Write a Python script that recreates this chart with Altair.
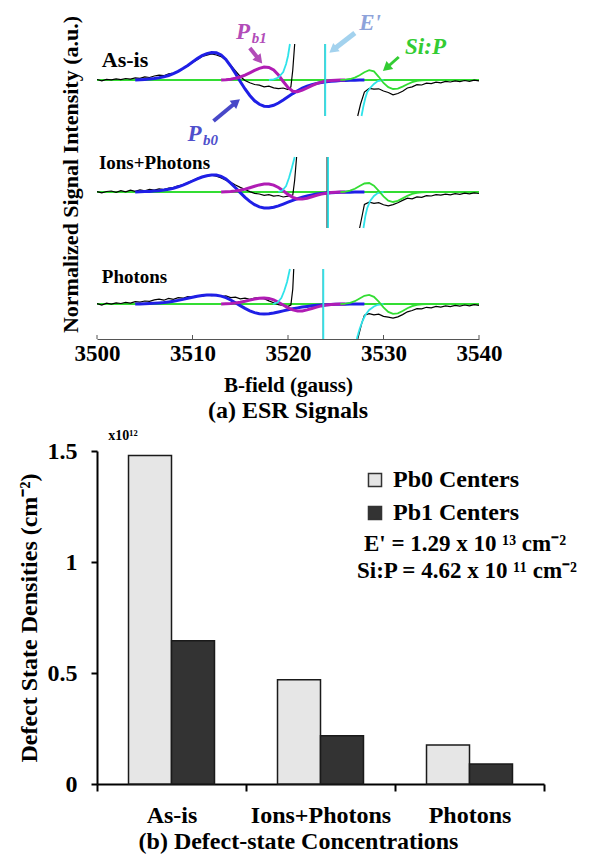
import altair as alt
import pandas as pd

FONT = "Liberation Serif"


def grid(a, b, step=0.5):
    n = int(round((b - a) / step)) + 1
    return [round(a + i * step, 2) for i in range(n)]


# ---------------- (a) ESR spectra ----------------
TRACES = ["As-is", "Ions+Photons", "Photons"]
OFFSETS = [259, 147, 35]          # vertical offset of each stacked spectrum (a.u.)
X_TICKS = [3500, 3510, 3520, 3530, 3540]

# Pb0 fit component (blue), sampled 3504..3528 G
PB0_X = grid(3504, 3528)
PB0_ASIS = [0, 0.3, 0.6, 1, 1.5, 2.2, 3.2, 4.5, 6.3, 8.6, 11.4, 14.6, 18, 21.4, 24.3, 26.4,
            27.5, 27.2, 25, 20.5, 14, 6.5, -1.5, -9, -15.5, -20.8, -24.3, -26.2, -26.5, -25.3,
            -23, -20, -16.8, -13.6, -10.7, -8.2, -6.2, -4.6, -3.4, -2.5, -1.8, -1.3, -0.9,
            -0.6, -0.4, -0.25, -0.15, -0.05, 0]
PB0_IONS = [0, 0.2, 0.4, 0.6, 0.9, 1.3, 1.9, 2.7, 3.8, 5.2, 6.9, 8.9, 11, 13.1, 15, 16.3,
            17, 17, 15.7, 12.9, 8.9, 4.3, -0.6, -5.3, -9.4, -12.7, -14.9, -16, -16.1, -15.3,
            -13.9, -12.1, -10.2, -8.3, -6.6, -5.1, -3.9, -2.9, -2.1, -1.5, -1.1, -0.8, -0.55,
            -0.35, -0.22, -0.13, -0.07, -0.03, 0]
PB0_PHOT = [0, 0.1, 0.3, 0.5, 0.7, 1, 1.4, 2, 2.7, 3.6, 4.6, 5.7, 6.8, 7.8, 8.6, 9, 9.1,
            8.8, 7.9, 6.3, 4, 1.3, -1.6, -4.4, -6.8, -8.6, -9.7, -10, -9.7, -9, -8, -6.9,
            -5.8, -4.8, -3.9, -3.1, -2.4, -1.8, -1.3, -0.95, -0.7, -0.5, -0.35, -0.23, -0.14,
            -0.08, -0.04, -0.02, 0]

# Pb1 fit component (magenta), sampled 3513..3526 G
PB1_X = grid(3513, 3526)
PB1_ASIS = [0, 0.3, 0.8, 1.7, 3, 4.9, 7.2, 9.6, 11.7, 12.9, 12.6, 10, 5, -1.5, -7.5, -11.2,
            -11.8, -10.2, -8, -5.6, -3.6, -2.1, -1.1, -0.5, -0.2, -0.05, 0]
PB1_IONS = [0, 0.2, 0.5, 1, 1.8, 2.9, 4.3, 5.8, 7.1, 7.9, 8, 6.9, 4.5, 1.2, -2.4, -5.3,
            -6.9, -7.1, -6.2, -4.8, -3.3, -2.1, -1.2, -0.6, -0.25, -0.08, 0]
PB1_PHOT = [0, 0.2, 0.5, 1, 1.7, 2.7, 3.9, 5, 5.8, 6.1, 5.6, 4.1, 1.8, -1, -3.8, -5.9,
            -7, -6.9, -5.9, -4.5, -3.1, -1.9, -1.1, -0.5, -0.2, -0.06, 0]

# Si:P fit component (green), sampled 3525.5..3534.5 G
SIP_X = grid(3525.5, 3534.5)
SIP_ASIS = [0, 0.3, 1, 2.4, 4.8, 7.8, 9.8, 8.6, 3.2, -3, -7.2, -9, -8.6, -6.6, -4.2, -2.2,
            -0.9, -0.3, 0]
SIP_IONS = [0, 0.4, 1.3, 3.2, 6, 8.5, 9, 6.4, 1.2, -4.4, -8.6, -10, -8.9, -6.4, -3.8, -1.9,
            -0.8, -0.25, 0]
SIP_PHOT = [0, 0.3, 1.1, 2.8, 5.5, 8.2, 9.1, 7.2, 2.4, -3.4, -7.9, -9.9, -9.3, -7, -4.3,
            -2.2, -0.9, -0.3, 0]

# E' fit component (cyan): left branch, off-scale jump, right branch
CYAN_ASIS_L_X = [3518.0, 3518.5, 3519.0, 3519.5, 3519.8, 3520.0, 3520.2]
CYAN_ASIS_L_Y = [0, 0.6, 2.5, 8, 16, 24, 36]
CYAN_ASIS_V_X = [3523.9, 3523.9]
CYAN_ASIS_V_Y = [36, -36]
CYAN_ASIS_R_X = [3527.7, 3527.9, 3528.1, 3528.3, 3528.6, 3529.0, 3529.4, 3530.0]
CYAN_ASIS_R_Y = [-36, -26, -18, -12, -8, -4, -1, 0]

CYAN_IONS_L_X = [3519.0, 3519.4, 3519.8, 3520.1, 3520.4, 3520.7]
CYAN_IONS_L_Y = [0, 1.5, 6, 14, 24, 35]
CYAN_IONS_V_X = [3524.2, 3524.2]
CYAN_IONS_V_Y = [35, -36]
CYAN_IONS_R_X = [3527.9, 3528.1, 3528.3, 3528.6, 3529.0, 3529.4, 3530.0]
CYAN_IONS_R_Y = [-36, -24, -16, -9, -4, -1, 0]

CYAN_PHOT_L_X = [3518.4, 3518.9, 3519.3, 3519.6, 3519.9, 3520.2]
CYAN_PHOT_L_Y = [0, 1.5, 6, 13, 22, 35]
CYAN_PHOT_V_X = [3523.7, 3523.7]
CYAN_PHOT_V_Y = [35, -35]
CYAN_PHOT_R_X = [3527.2, 3527.5, 3527.8, 3528.1, 3528.5, 3529.0, 3529.4, 3530.0]
CYAN_PHOT_R_Y = [-35, -25, -17, -11, -6, -2.5, -0.8, 0]

# Measured spectra (black)
BLACK_ASIS_L_X = grid(3500, 3520) + [3520.3, 3520.5, 3520.7]
BLACK_ASIS_L_Y = [0.5, -0.8, 0.6, 0.2, 1.2, 0.4, 1.5, 0.9, 2.2, 1.6,
                  3.1, 2.5, 4.0, 4.8, 4.3, 6.2, 7.0, 8.9, 11.5, 14.0,
                  17.6, 20.2, 23.5, 24.8, 26.1, 25.0, 23.4, 19.8, 14.9, 9.0,
                  3.5, -0.5, -2.8, -4.5, -5.2, -6.8, -6.1, -7.9, -8.6, -8.0,
                  -9.5, -7, 10, 36]
BLACK_ASIS_V_X = [3523.9, 3523.9]
BLACK_ASIS_V_Y = [36, -36]
BLACK_ASIS_R_X = [3527.3, 3527.6] + grid(3528, 3540)
BLACK_ASIS_R_Y = [-36, -24,
                  -12, -8.5, -9.2, -8.8, -11, -12.5, -14.8, -13.5, -11.2, -8.0,
                  -6.9, -4.6, -5.0, -3.1, -3.6, -2.2, -2.9, -1.4, -2.0, -0.8,
                  -1.6, -0.5, -1.3, -0.2, -0.9]

BLACK_IONS_L_X = grid(3500, 3520) + [3520.5, 3520.7, 3520.9]
BLACK_IONS_L_Y = [0.3, -0.9, 0.5, 1.0, -0.4, 1.3, 0.2, 1.8, 0.7, 2.1,
                  1.2, 2.6, 1.9, 3.2, 2.4, 3.9, 4.4, 6.1, 7.2, 9.4,
                  11.5, 13.6, 15.2, 16.4, 16.8, 15.9, 14.1, 11.8, 9.6, 7.0,
                  4.6, 2.5, 0.4, -1.3, -2.0, -3.4, -2.6, -4.1, -3.5, -5.0,
                  -4.2, -3, 12, 35]
BLACK_IONS_V_X = [3524.1, 3524.1]
BLACK_IONS_V_Y = [35, -36]
BLACK_IONS_R_X = [3527.5, 3527.8] + grid(3528, 3540)
BLACK_IONS_R_Y = [-36, -22,
                  -12.5, -10.2, -11.4, -10.6, -12.8, -13.9, -12.6, -10.8, -8.4, -6.2,
                  -6.8, -4.9, -5.3, -3.6, -4.0, -2.7, -3.2, -2.1, -2.8, -1.6,
                  -2.3, -1.2, -1.9, -0.9, -1.5]

BLACK_PHOT_L_X = grid(3500, 3520) + [3520.3, 3520.5, 3520.6]
BLACK_PHOT_L_Y = [0.4, -1.0, 0.8, -0.2, 1.1, 0.5, 1.6, 0.9, 2.4, 1.8,
                  3.0, 2.6, 4.1, 4.9, 3.8, 5.6, 4.7, 6.3, 5.8, 7.4,
                  6.9, 8.3, 7.6, 9.2, 8.4, 8.9, 7.5, 8.1, 6.4, 6.9,
                  5.2, 5.9, 4.6, 5.8, 6.3, 5.4, 3.1, 1.2, -0.6, -1.5,
                  -2.4, -1, 15, 35]
BLACK_PHOT_V_X = [3523.7, 3523.7]
BLACK_PHOT_V_Y = [35, -35]
BLACK_PHOT_R_X = [3527.3, 3527.7] + grid(3528, 3540)
BLACK_PHOT_R_Y = [-35, -20,
                  -11.2, -9.6, -10.8, -10.1, -12.4, -13.2, -14.1, -12.9, -10.6, -7.8,
                  -6.5, -4.6, -4.9, -3.3, -3.8, -2.4, -3.1, -1.9, -2.6, -1.4,
                  -2.2, -1.0, -1.8, -0.7, -1.4]

# annotations of panel (a)
LABEL_TEXT = ["As-is", "Ions+Photons", "Photons"]
LABEL_X = [3500.5, 3500.2, 3500.5]
LABEL_Y = [279, 176, 62]
LABEL_SIZE = [22, 19, 19]

ANN_MAIN = ["P", "P", "E'", "Si:P"]
ANN_MAIN_X = [3515.3, 3510.2, 3528.6, 3534.4]
ANN_MAIN_Y = [307, 205, 316, 292]
ANN_COLOR = ["#b24cb8", "#4f4fcc", "#8ea3da", "#33cc33"]
ANN_SUB = ["b1", "b0"]
ANN_SUB_X = [3516.2, 3511.1]
ANN_SUB_Y = [301, 199]

ARROW_X = [3516.0, 3512.2, 3527.0, 3531.6]
ARROW_Y = [291, 218, 306, 282]
ARROW_X2 = [3517.0, 3514.6, 3524.7, 3530.3]
ARROW_Y2 = [279, 237, 289, 271]
ARROW_COLOR = ["#b24cb8", "#4848c8", "#a3d2ee", "#33cc33"]
ARROW_W = [4, 4, 5, 3]
ARROW_ANGLE = [141, 51, 232, 230]

# ---------------- (b) densities ----------------
CATS = ["As-is", "Ions+Photons", "Photons"]
SERIES = ["Pb0 Centers", "Pb1 Centers"]
PB0_DENS = [1.48, 0.47, 0.176]
PB1_DENS = [0.645, 0.217, 0.09]
Y_TICKS_B = [0, 0.5, 1, 1.5]
E_TEXT = "E' = 1.29 x 10 \u00b9\u00b3 cm\u207b\u00b2"
S_TEXT = "Si:P = 4.62 x 10 \u00b9\u00b9 cm\u207b\u00b2"

# ---------------- build long tables ----------------
rows = {"black": [], "blue": [], "mag": [], "cyan": [], "green": []}


def add(comp, key, xs, ys, off):
    for i, (x, y) in enumerate(zip(xs, ys)):
        rows[comp].append({"x": x, "y": y + off, "key": key, "i": i})


spec = {
    "As-is": dict(pb0=PB0_ASIS, pb1=PB1_ASIS, sip=SIP_ASIS,
                  cyan=[(CYAN_ASIS_L_X, CYAN_ASIS_L_Y), (CYAN_ASIS_V_X, CYAN_ASIS_V_Y), (CYAN_ASIS_R_X, CYAN_ASIS_R_Y)],
                  black=[(BLACK_ASIS_L_X, BLACK_ASIS_L_Y), (BLACK_ASIS_V_X, BLACK_ASIS_V_Y), (BLACK_ASIS_R_X, BLACK_ASIS_R_Y)]),
    "Ions+Photons": dict(pb0=PB0_IONS, pb1=PB1_IONS, sip=SIP_IONS,
                  cyan=[(CYAN_IONS_L_X, CYAN_IONS_L_Y), (CYAN_IONS_V_X, CYAN_IONS_V_Y), (CYAN_IONS_R_X, CYAN_IONS_R_Y)],
                  black=[(BLACK_IONS_L_X, BLACK_IONS_L_Y), (BLACK_IONS_V_X, BLACK_IONS_V_Y), (BLACK_IONS_R_X, BLACK_IONS_R_Y)]),
    "Photons": dict(pb0=PB0_PHOT, pb1=PB1_PHOT, sip=SIP_PHOT,
                  cyan=[(CYAN_PHOT_L_X, CYAN_PHOT_L_Y), (CYAN_PHOT_V_X, CYAN_PHOT_V_Y), (CYAN_PHOT_R_X, CYAN_PHOT_R_Y)],
                  black=[(BLACK_PHOT_L_X, BLACK_PHOT_L_Y), (BLACK_PHOT_V_X, BLACK_PHOT_V_Y), (BLACK_PHOT_R_X, BLACK_PHOT_R_Y)]),
}

for t, off in zip(TRACES, OFFSETS):
    s = spec[t]
    add("blue", t, PB0_X, s["pb0"], off)
    add("mag", t, PB1_X, s["pb1"], off)
    add("green", t, SIP_X, s["sip"], off)
    for j, (xs, ys) in enumerate(s["cyan"]):
        add("cyan", f"{t}-{j}", xs, ys, off)
    for j, (xs, ys) in enumerate(s["black"]):
        add("black", f"{t}-{j}", xs, ys, off)

base_df = pd.DataFrame({"x": [3500] * 3, "x2": [3540] * 3, "y": OFFSETS})
tick_df = pd.DataFrame({"x": X_TICKS, "y": [0] * 5, "y2": [4] * 5})
label_df = pd.DataFrame({"x": LABEL_X, "y": LABEL_Y, "t": LABEL_TEXT, "s": LABEL_SIZE})
ann_df = pd.DataFrame({"x": ANN_MAIN_X, "y": ANN_MAIN_Y, "t": ANN_MAIN, "c": ANN_COLOR})
sub_df = pd.DataFrame({"x": ANN_SUB_X, "y": ANN_SUB_Y, "t": ANN_SUB, "c": ANN_COLOR[:2]})
arrow_df = pd.DataFrame({"x": ARROW_X, "y": ARROW_Y, "x2": ARROW_X2, "y2": ARROW_Y2,
                         "c": ARROW_COLOR, "w": ARROW_W})
tip_df = pd.DataFrame({"x": ARROW_X2, "y": ARROW_Y2, "c": ARROW_COLOR, "a": ARROW_ANGLE})

XS = alt.Scale(domain=[3500, 3540], nice=False, zero=False)
YS = alt.Scale(domain=[0, 330], nice=False, zero=False)
X_AXIS = alt.Axis(values=X_TICKS, format="d", title="B-field (gauss)", grid=False,
                  ticks=False, domainColor="#555555", domainWidth=1, labelFlush=False,
                  labelFont=FONT, labelFontSize=23, labelFontWeight="bold", labelColor="black",
                  labelPadding=3, titleFont=FONT, titleFontSize=21, titleFontWeight="bold",
                  titleColor="black", titlePadding=9)
Y_AXIS = alt.Axis(title="Normalized Signal Intensity (a.u.)", labels=False, ticks=False,
                  domain=False, grid=False, titleFont=FONT, titleFontSize=22,
                  titleFontWeight="bold", titleColor="black", titlePadding=15)


def X():
    return alt.X("x:Q", scale=XS, axis=X_AXIS)


def Y():
    return alt.Y("y:Q", scale=YS, axis=Y_AXIS)


def line(comp, color, width):
    return alt.Chart(pd.DataFrame(rows[comp])).mark_line(
        color=color, strokeWidth=width, clip=True).encode(
        x=X(), y=Y(), detail="key:N", order="i:Q")


baseline = alt.Chart(base_df).mark_rule(color="#33dd33", strokeWidth=2).encode(
    x=X(), x2="x2:Q", y=Y())
ticks = alt.Chart(tick_df).mark_rule(color="#555555").encode(x=X(), y=Y(), y2="y2:Q")
labels = alt.Chart(label_df).mark_text(font=FONT, fontWeight="bold", align="left",
                                       baseline="middle", color="black").encode(
    x=X(), y=Y(), text="t:N", size=alt.Size("s:Q", scale=None))
ann = alt.Chart(ann_df).mark_text(font=FONT, fontWeight="bold", fontStyle="italic",
                                  fontSize=23, align="center", baseline="middle").encode(
    x=X(), y=Y(), text="t:N", color=alt.Color("c:N", scale=None))
sub = alt.Chart(sub_df).mark_text(font=FONT, fontWeight="bold", fontStyle="italic",
                                  fontSize=15, align="left", baseline="middle").encode(
    x=X(), y=Y(), text="t:N", color=alt.Color("c:N", scale=None))
arrows = alt.Chart(arrow_df).mark_rule().encode(
    x=X(), y=Y(), x2="x2:Q", y2="y2:Q", color=alt.Color("c:N", scale=None),
    strokeWidth=alt.StrokeWidth("w:Q", scale=None))
tips = alt.Chart(tip_df).mark_point(shape="triangle-up", filled=True, size=110, opacity=1).encode(
    x=X(), y=Y(), color=alt.Color("c:N", scale=None), angle=alt.Angle("a:Q", scale=None))

top = alt.layer(
    baseline,
    line("black", "#000000", 1.2),
    line("blue", "#1f1fe6", 3),
    line("mag", "#b01cb4", 3),
    line("cyan", "#2fe3ea", 1.8),
    line("green", "#33dd33", 1.8),
    ticks, labels, arrows, tips, ann, sub,
).properties(
    width=382, height=330,
    title=alt.TitleParams("(a) ESR Signals", orient="bottom", anchor="middle", frame="group",
                          font=FONT, fontSize=24, fontWeight="bold", color="black", offset=4),
)

# ---------------- bottom chart ----------------
bars_df = pd.DataFrame({
    "cat": CATS * 2,
    "series": [SERIES[0]] * 3 + [SERIES[1]] * 3,
    "value": PB0_DENS + PB1_DENS,
})

bars = alt.Chart(bars_df).mark_bar(stroke="#1a1a1a", strokeWidth=1.5).encode(
    x=alt.X("cat:N", sort=CATS, scale=alt.Scale(paddingInner=0, paddingOuter=0),
            axis=alt.Axis(title=None, labelAngle=0, tickBand="extent", tickSize=7,
                          tickWidth=2, tickColor="black", domainColor="black", domainWidth=2,
                          labelFont=FONT, labelFontSize=24, labelFontWeight="bold",
                          labelColor="black", labelPadding=12)),
    xOffset=alt.XOffset("series:N", sort=SERIES,
                        scale=alt.Scale(paddingInner=0, paddingOuter=0.733)),
    y=alt.Y("value:Q", scale=alt.Scale(domain=[0, 1.5], nice=False),
            axis=alt.Axis(values=Y_TICKS_B, labelExpr="toString(datum.value)",
                          title="Defect State Densities (cm\u207b\u00b2)", grid=False,
                          tickSize=6, tickWidth=2, tickColor="black", domainColor="black",
                          domainWidth=2, labelFont=FONT, labelFontSize=24,
                          labelFontWeight="bold", labelColor="black", labelPadding=14,
                          titleFont=FONT, titleFontSize=24, titleFontWeight="bold",
                          titleColor="black", titlePadding=6)),
    color=alt.Color("series:N", sort=SERIES,
                    scale=alt.Scale(domain=SERIES, range=["#e6e6e6", "#333333"]),
                    legend=alt.Legend(title=None, orient="none", legendX=266, legendY=17,
                                      symbolType="square", symbolSize=170,
                                      symbolStrokeColor="#333333", symbolStrokeWidth=1.5,
                                      symbolOpacity=1, labelFont=FONT, labelFontSize=24,
                                      labelFontWeight="bold", labelColor="black",
                                      rowPadding=9, labelOffset=6)),
)

e_txt = alt.Chart(pd.DataFrame({"t": [E_TEXT]})).mark_text(
    font=FONT, fontWeight="bold", fontSize=23, align="center", baseline="middle",
    color="black").encode(text="t:N", x=alt.value(368), y=alt.value(93))
s_txt = alt.Chart(pd.DataFrame({"t": [S_TEXT]})).mark_text(
    font=FONT, fontWeight="bold", fontSize=23, align="center", baseline="middle",
    color="black").encode(text="t:N", x=alt.value(370), y=alt.value(120))
x10 = alt.Chart(pd.DataFrame({"t": ["x10\u00b9\u00b2"]})).mark_text(
    font=FONT, fontWeight="bold", fontSize=14, align="center", baseline="middle",
    color="black").encode(text="t:N", x=alt.value(26), y=alt.value(-15))

bottom = alt.layer(bars, e_txt, s_txt, x10).properties(
    width=447, height=333,
    title=alt.TitleParams("(b) Defect-state Concentrations", orient="bottom", anchor="middle",
                          frame="group", dx=-22, font=FONT, fontSize=24, fontWeight="bold",
                          color="black", offset=3),
)

chart = alt.vconcat(top, bottom, spacing=4).resolve_scale(
    color="independent"
).resolve_legend(color="independent").properties(
    padding={"left": 8, "top": 0, "right": 0, "bottom": 0}
).configure_view(stroke="transparent")

chart.save("out.html", embed_options={"renderer": "svg", "actions": False})
